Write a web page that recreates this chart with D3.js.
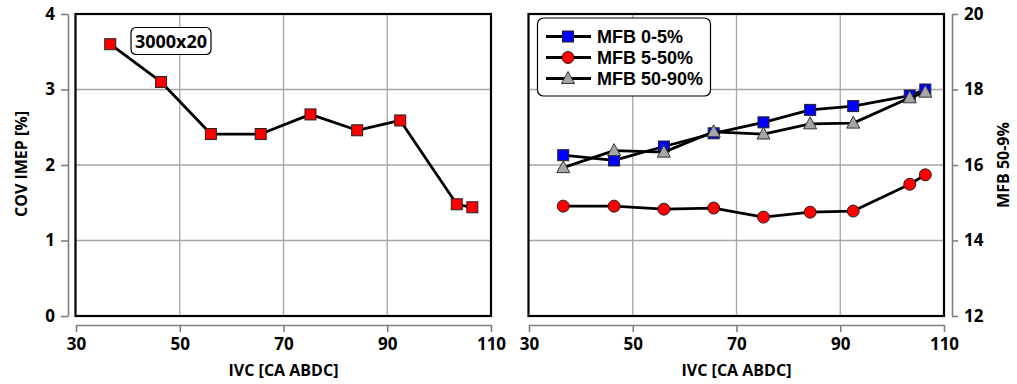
<!DOCTYPE html>
<html><head><meta charset="utf-8">
<script src="https://cdn.jsdelivr.net/npm/d3@7"></script>
<style>
body{margin:0;background:#fff;}
svg{display:block;}
</style></head>
<body><svg id="c" width="1017" height="384"></svg>
<script>
const ivc = [36.6, 46.4, 56.0, 65.6, 75.2, 84.2, 92.5, 103.4, 106.4];
const covImep = [3.60, 3.10, 2.41, 2.41, 2.67, 2.46, 2.59, 1.48, 1.44];
const mfb0_5 = [16.26, 16.12, 16.49, 16.84, 17.13, 17.46, 17.56, 17.84, 18.00];
const mfb5_50 = [14.91, 14.91, 14.83, 14.86, 14.62, 14.75, 14.78, 15.49, 15.74];
const mfb50_90 = [15.93, 16.38, 16.34, 16.88, 16.82, 17.09, 17.11, 17.78, 17.93];
const xTicks = [30, 50, 70, 90, 110];
const yTicksLeft = [0, 1, 2, 3, 4];
const yTicksRight = [12, 14, 16, 18, 20];
const seriesNames = ["MFB 0-5%", "MFB 5-50%", "MFB 50-90%"];
const panelLabel = "3000x20";

const svg = d3.select("#c");
const plotTop = 14, plotBottom = 316;
const gridCol = "#a6a6a6", axisCol = "#808080";
const FONT = "'Open Sans', sans-serif";
const LFONT = "'Liberation Sans', Arial, sans-serif";

const xL = d3.scaleLinear().domain([30, 110]).range([76, 491]);
const yL = d3.scaleLinear().domain([0, 4]).range([plotBottom, plotTop]);
const xR = d3.scaleLinear().domain([30, 110]).range([529, 944]);
const yR = d3.scaleLinear().domain([12, 20]).range([plotBottom, plotTop]);

function txt(sel, size, fam) {
  return sel.style("font-family", fam || FONT).style("font-weight", "bold")
    .style("font-size", size + "px").style("fill", "#000");
}

function styleAxis(a) {
  a.select(".domain").attr("stroke", axisCol).attr("stroke-width", 1.6);
  a.selectAll(".tick line").attr("stroke", axisCol).attr("stroke-width", 1.6);
  txt(a.selectAll("text"), 17);
}

function drawFrame(x, y, gridY) {
  const g = svg.append("g");
  g.selectAll(".gx").data([50, 70, 90]).join("line")
    .attr("x1", d => x(d)).attr("x2", d => x(d)).attr("y1", plotTop).attr("y2", plotBottom)
    .attr("stroke", gridCol).attr("stroke-width", 1.3);
  g.selectAll(".gy").data(gridY).join("line")
    .attr("x1", x(30)).attr("x2", x(110)).attr("y1", d => y(d)).attr("y2", d => y(d))
    .attr("stroke", gridCol).attr("stroke-width", 1.3);
  g.append("rect").attr("x", x(30) - 0.5).attr("y", plotTop).attr("width", x(110) - x(30) + 0.5)
    .attr("height", plotBottom - plotTop).attr("fill", "none").attr("stroke", "#000").attr("stroke-width", 2.2);
  const ax = svg.append("g").attr("transform", "translate(0,325)")
    .call(d3.axisBottom(x).tickValues(xTicks).tickFormat(d3.format("d")).tickSize(7).tickSizeOuter(0).tickPadding(6));
  styleAxis(ax);
  txt(svg.append("text").attr("x", (x(30) + x(110)) / 2).attr("y", 376)
    .attr("text-anchor", "middle"), 16).text("IVC [CA ABDC]");
}

drawFrame(xL, yL, [1, 2, 3]);
drawFrame(xR, yR, [14, 16, 18]);

const ayL = svg.append("g").attr("transform", "translate(68,0)")
  .call(d3.axisLeft(yL).tickValues(yTicksLeft).tickFormat(d3.format("d")).tickSize(7).tickSizeOuter(0).tickPadding(6));
styleAxis(ayL);
const ayR = svg.append("g").attr("transform", "translate(952,0)")
  .call(d3.axisRight(yR).tickValues(yTicksRight).tickFormat(d3.format("d")).tickSize(6).tickSizeOuter(0).tickPadding(6));
styleAxis(ayR);

txt(svg.append("text").attr("transform", "translate(27,164) rotate(-90)")
  .attr("text-anchor", "middle"), 16).text("COV IMEP [%]");
txt(svg.append("text").attr("transform", "translate(1009,165) rotate(-90)")
  .attr("text-anchor", "middle"), 16).text("MFB 50-9%");

const line = (x, y) => d3.line().x(d => x(d[0])).y(d => y(d[1]));
const markerStroke = "#222";

function drawMarker(g, type, cx, cy, fill) {
  if (type === "square") {
    g.append("rect").attr("x", cx - 5.5).attr("y", cy - 5.5).attr("width", 11).attr("height", 11)
      .attr("fill", fill).attr("stroke", markerStroke).attr("stroke-width", 1);
  } else if (type === "circle") {
    g.append("circle").attr("cx", cx).attr("cy", cy).attr("r", 6)
      .attr("fill", fill).attr("stroke", markerStroke).attr("stroke-width", 1);
  } else {
    g.append("path").attr("d", `M${cx},${cy - 7}L${cx + 6.5},${cy + 5}L${cx - 6.5},${cy + 5}Z`)
      .attr("fill", fill).attr("stroke", "#333").attr("stroke-width", 1);
  }
}

function drawSeries(x, y, vals, type, fill) {
  const pts = ivc.map((v, i) => [v, vals[i]]);
  const g = svg.append("g");
  g.append("path").datum(pts).attr("d", line(x, y)).attr("fill", "none")
    .attr("stroke", "#000").attr("stroke-width", 2.8).attr("stroke-linejoin", "round");
  pts.forEach(p => drawMarker(g, type, x(p[0]), y(p[1]), fill));
}

drawSeries(xL, yL, covImep, "square", "#ff0000");
drawSeries(xR, yR, mfb0_5, "square", "#0000ff");
drawSeries(xR, yR, mfb5_50, "circle", "#ff0000");
drawSeries(xR, yR, mfb50_90, "triangle", "#a6a6a6");

svg.append("rect").attr("x", 131).attr("y", 27.5).attr("width", 80).attr("height", 27)
  .attr("rx", 5).attr("fill", "#fff").attr("stroke", "#000").attr("stroke-width", 1.2);
txt(svg.append("text").attr("x", 171).attr("y", 48).attr("text-anchor", "middle"), 18).text(panelLabel);

const lg = svg.append("g");
lg.append("rect").attr("x", 537.5).attr("y", 18).attr("width", 173).attr("height", 78)
  .attr("rx", 6).attr("fill", "#fff").attr("stroke", "#000").attr("stroke-width", 1.2);
const legTypes = [["square", "#0000ff"], ["circle", "#ff0000"], ["triangle", "#a6a6a6"]];
seriesNames.forEach((n, i) => {
  const cy = 36.5 + i * 21;
  lg.append("line").attr("x1", 546).attr("x2", 591).attr("y1", cy).attr("y2", cy)
    .attr("stroke", "#000").attr("stroke-width", 2.8);
  drawMarker(lg, legTypes[i][0], 568, cy, legTypes[i][1]);
  txt(lg.append("text").attr("x", 597).attr("y", cy + 6.5), 18, LFONT).text(n);
});
</script></body></html>
